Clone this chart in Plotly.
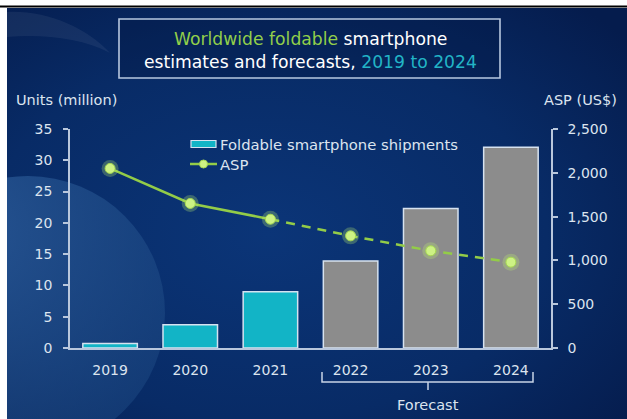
import base64
import plotly.graph_objects as go

# ---- data -------------------------------------------------------------
years = ["2019", "2020", "2021", "2022", "2023", "2024"]
shipments = [0.7, 3.7, 9.0, 13.9, 22.3, 32.1]          # units, million
asp = [2050, 1650, 1470, 1280, 1110, 980]               # US$
is_forecast = [False, False, False, True, True, True]
units_ticks = [0, 5, 10, 15, 20, 25, 30, 35]
asp_ticks = [0, 500, 1000, 1500, 2000, 2500]

# ---- page geometry ----------------------------------------------------
W, H = 627, 419
ML, MR, MT, MB = 70, 76, 129, 71
PW, PH = W - ML - MR, H - MT - MB
FONT = "DejaVu Sans"
TXT = "#dce4ef"
AXIS = "#b9c7dc"
TEAL = "#12b4c6"
GREY = "#8c8c8c"
GREEN = "#93cc48"


def fx(p):
    """pixel x -> paper x"""
    return (p - ML) / PW


def fy(p):
    """pixel y (from top) -> paper y"""
    return (H - MB - p) / PH


# dark navy backdrop with the soft disc and swoosh
bg_svg = f"""<svg xmlns='http://www.w3.org/2000/svg' width='620' height='411' viewBox='0 0 620 411'>
<defs>
<radialGradient id='g' cx='0.42' cy='0.55' r='0.75'>
<stop offset='0' stop-color='#0b3578'/>
<stop offset='0.6' stop-color='#082b66'/>
<stop offset='1' stop-color='#051c4d'/>
</radialGradient>
<radialGradient id='d' cx='0.3' cy='0.2' r='0.9'>
<stop offset='0' stop-color='#2c5c9a' stop-opacity='0.8'/>
<stop offset='1' stop-color='#1b4680' stop-opacity='0.55'/>
</radialGradient>
</defs>
<rect width='620' height='411' fill='url(#g)'/>
<circle cx='21' cy='305' r='137' fill='url(#d)'/>
<path d='M0,4 C40,2 80,20 103,45 C75,30 35,26 0,29 Z' fill='#ffffff' fill-opacity='0.06'/>
</svg>"""
bg_uri = "data:image/svg+xml;base64," + base64.b64encode(bg_svg.encode()).decode()

fig = go.Figure()

# shipments bars (actual = teal, forecast = grey)
fig.add_trace(go.Bar(
    x=years, y=shipments, name="Foldable smartphone shipments",
    marker=dict(color=[GREY if f else TEAL for f in is_forecast],
                line=dict(color="#d6e2f0", width=1.5)),
    width=0.68, showlegend=False, hoverinfo="x+y",
))

# ASP line: solid for actuals, dashed for forecast
fig.add_trace(go.Scatter(
    x=years[:3], y=asp[:3], yaxis="y2", mode="lines",
    line=dict(color=GREEN, width=2.5), showlegend=False, hoverinfo="skip",
))
fig.add_trace(go.Scatter(
    x=years[2:], y=asp[2:], yaxis="y2", mode="lines",
    line=dict(color=GREEN, width=2.5, dash="9px,7px"), showlegend=False, hoverinfo="skip",
))
# glowing markers
fig.add_trace(go.Scatter(
    x=years, y=asp, yaxis="y2", mode="markers",
    marker=dict(size=17, color="rgba(190,240,110,0.28)", line=dict(width=0)),
    showlegend=False, hoverinfo="skip",
))
fig.add_trace(go.Scatter(
    x=years, y=asp, yaxis="y2", mode="markers", name="ASP",
    marker=dict(size=10, color="#cdf284", line=dict(color="#a6d852", width=1)),
    showlegend=False,
))

shapes = [
    # thin black rule across the top
    dict(type="line", xref="paper", yref="paper", x0=fx(0), x1=fx(W), y0=fy(6.5), y1=fy(6.5),
         line=dict(color="#000000", width=2)),
    # title frame
    dict(type="rect", xref="paper", yref="paper", x0=fx(119), x1=fx(500), y0=fy(19), y1=fy(78),
         line=dict(color="#b7c7df", width=1.6), fillcolor="rgba(4,22,66,0.35)", layer="below"),
    # legend: bar swatch
    dict(type="rect", xref="paper", yref="paper", x0=fx(191), x1=fx(216), y0=fy(140.5), y1=fy(147.5),
         line=dict(color="#d6e2f0", width=1.2), fillcolor=TEAL),
    # legend: line with marker
    dict(type="line", xref="paper", yref="paper", x0=fx(190), x1=fx(217), y0=fy(164), y1=fy(164),
         line=dict(color=GREEN, width=2.5)),
    dict(type="circle", xref="paper", yref="paper", x0=fx(199.5), x1=fx(207.5), y0=fy(160), y1=fy(168),
         line=dict(color="#a6d852", width=1), fillcolor="#cdf284"),
    # forecast bracket
    dict(type="path", xref="paper", yref="paper",
         path=(f"M{fx(322)},{fy(372)} L{fx(322)},{fy(382)} L{fx(533)},{fy(382)} L{fx(533)},{fy(372)} "
               f"M{fx(428)},{fy(382)} L{fx(428)},{fy(390)}"),
         line=dict(color="#c8d4e6", width=1.5)),
]

annotations = [
    dict(text="<span style='color:#92cf4a'>Worldwide foldable</span> smartphone",
         x=fx(310), y=fy(39), xref="paper", yref="paper", showarrow=False,
         font=dict(family=FONT, size=17.2, color="#ffffff"), xanchor="center", yanchor="middle"),
    dict(text="estimates and forecasts, <span style='color:#22b4c6'>2019 to 2024</span>",
         x=fx(310), y=fy(62), xref="paper", yref="paper", showarrow=False,
         font=dict(family=FONT, size=17.2, color="#ffffff"), xanchor="center", yanchor="middle"),
    dict(text="Units (million)", x=fx(14), y=fy(100), xref="paper", yref="paper", showarrow=False,
         font=dict(family=FONT, size=14.5, color=TXT), xanchor="left", yanchor="middle"),
    dict(text="ASP (US$)", x=fx(619), y=fy(100), xref="paper", yref="paper", showarrow=False,
         font=dict(family=FONT, size=14.5, color=TXT), xanchor="right", yanchor="middle"),
    dict(text="Foldable smartphone shipments", x=fx(218), y=fy(144), xref="paper", yref="paper",
         showarrow=False, font=dict(family=FONT, size=14.8, color=TXT), xanchor="left", yanchor="middle"),
    dict(text="ASP", x=fx(218), y=fy(164), xref="paper", yref="paper",
         showarrow=False, font=dict(family=FONT, size=14.8, color=TXT), xanchor="left", yanchor="middle"),
    dict(text="Forecast", x=fx(428), y=fy(405), xref="paper", yref="paper",
         showarrow=False, font=dict(family=FONT, size=14.5, color=TXT), xanchor="center", yanchor="middle"),
]

fig.update_layout(
    width=W, height=H,
    margin=dict(l=ML, r=MR, t=MT, b=MB, pad=0),
    paper_bgcolor="#ffffff",
    plot_bgcolor="rgba(0,0,0,0)",
    font=dict(family=FONT, color=TXT),
    showlegend=False,
    bargap=0.32,
    images=[dict(source=bg_uri, xref="paper", yref="paper", x=fx(7), y=fy(8),
                 sizex=620 / PW, sizey=411 / PH, xanchor="left", yanchor="top",
                 sizing="stretch", layer="below")],
    shapes=shapes,
    annotations=annotations,
    xaxis=dict(
        type="category", range=[-0.5, 5.5], showgrid=False, zeroline=False,
        showline=True, linecolor=AXIS, linewidth=1.5, ticks="",
        tickfont=dict(family=FONT, size=14, color=TXT), ticklabelstandoff=8,
        fixedrange=True,
    ),
    yaxis=dict(
        range=[0, 35], tickvals=units_ticks, showgrid=False, zeroline=False,
        showline=True, linecolor=AXIS, linewidth=1.5,
        ticks="outside", ticklen=5, tickwidth=1.5, tickcolor=AXIS,
        tickfont=dict(family=FONT, size=14, color=TXT), ticklabelstandoff=8,
        fixedrange=True,
    ),
    yaxis2=dict(
        range=[0, 2500], tickvals=asp_ticks, tickformat=",", overlaying="y", side="right",
        showgrid=False, zeroline=False, showline=True, linecolor=AXIS, linewidth=1.5,
        ticks="outside", ticklen=5, tickwidth=1.5, tickcolor=AXIS,
        tickfont=dict(family=FONT, size=14, color=TXT), ticklabelstandoff=7,
        fixedrange=True,
    ),
)

fig.write_html("out.html")
